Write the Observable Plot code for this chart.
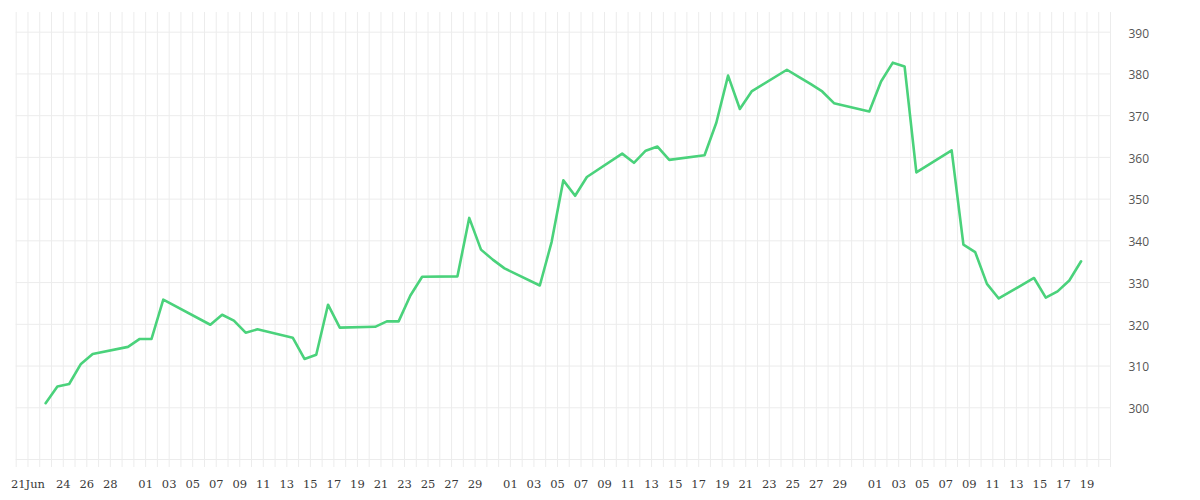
<!DOCTYPE html>
<html><head><meta charset="utf-8">
<script src="https://cdn.jsdelivr.net/npm/d3@7"></script>
<script src="https://cdn.jsdelivr.net/npm/@observablehq/plot@0.6"></script>
<style>html,body{margin:0;padding:0;background:#fff;}</style>
</head><body><div id="chart"></div>
<script>
const dates = [
  "2020-06-22","2020-06-23","2020-06-24","2020-06-25","2020-06-26","2020-06-29","2020-06-30",
  "2020-07-01","2020-07-02","2020-07-06","2020-07-07","2020-07-08","2020-07-09","2020-07-10",
  "2020-07-13","2020-07-14","2020-07-15","2020-07-16","2020-07-17","2020-07-20","2020-07-21",
  "2020-07-22","2020-07-23","2020-07-24","2020-07-27","2020-07-28","2020-07-29","2020-07-30",
  "2020-07-31","2020-08-03","2020-08-04","2020-08-05","2020-08-06","2020-08-07","2020-08-10",
  "2020-08-11","2020-08-12","2020-08-13","2020-08-14","2020-08-17","2020-08-18","2020-08-19",
  "2020-08-20","2020-08-21","2020-08-24","2020-08-25","2020-08-26","2020-08-27","2020-08-28",
  "2020-08-31","2020-09-01","2020-09-02","2020-09-03","2020-09-04","2020-09-07","2020-09-08",
  "2020-09-09","2020-09-10","2020-09-11","2020-09-14","2020-09-15","2020-09-16","2020-09-17",
  "2020-09-18"
];
const prices = [
  301.1,305.1,305.7,310.5,312.9,314.6,316.5,
  316.5,325.9,319.9,322.3,320.9,318.0,318.8,
  316.8,311.7,312.7,324.7,319.2,319.4,320.7,
  320.7,326.9,331.4,331.5,345.5,337.9,335.5,
  333.4,329.3,339.7,354.5,350.8,355.3,360.9,
  358.7,361.6,362.6,359.4,360.5,368.3,379.6,
  371.6,375.8,381.0,379.3,377.6,375.8,373.0,
  371.0,378.2,382.7,381.8,356.4,361.7,339.1,
  337.3,329.7,326.2,331.1,326.4,327.9,330.5,
  335.1
];
const yTicks = [300,310,320,330,340,350,360,370,380,390];
const xTickDates = [
  "2020-06-21","2020-06-24","2020-06-26","2020-06-28",
  "2020-07-01","2020-07-03","2020-07-05","2020-07-07","2020-07-09","2020-07-11","2020-07-13","2020-07-15",
  "2020-07-17","2020-07-19","2020-07-21","2020-07-23","2020-07-25","2020-07-27","2020-07-29",
  "2020-08-01","2020-08-03","2020-08-05","2020-08-07","2020-08-09","2020-08-11","2020-08-13","2020-08-15",
  "2020-08-17","2020-08-19","2020-08-21","2020-08-23","2020-08-25","2020-08-27","2020-08-29",
  "2020-09-01","2020-09-03","2020-09-05","2020-09-07","2020-09-09","2020-09-11","2020-09-13","2020-09-15",
  "2020-09-17","2020-09-19"
];
const xDomain = ["2020-06-20", "2020-09-21"];
const yDomain = [285.69, 394.72];
const baseline = 287.61;

const parse = s => new Date(s + "T00:00:00Z");
const data = dates.map((d, i) => ({date: new Date(d + "T12:00:00Z"), price: prices[i]}));
const xTicks = xTickDates.map(parse);
const days = d3.utcDay.range(parse(xDomain[0]), d3.utcDay.offset(parse(xDomain[1]), 1));
const firstTick = +xTicks[0];
const fmtX = d => +d === firstTick ? d3.utcFormat("%d%b")(d) : d3.utcFormat("%d")(d);
const grid = "#ececec";

const chart = Plot.plot({
  width: 1200,
  height: 500,
  marginTop: 12,
  marginBottom: 33,
  marginLeft: 15.7,
  marginRight: 90,
  x: {type: "utc", domain: xDomain.map(parse), axis: null},
  y: {domain: yDomain, axis: null},
  marks: [
    Plot.ruleX(days, {stroke: grid, strokeWidth: 1}),
    Plot.ruleY(yTicks, {stroke: grid, strokeWidth: 1}),
    Plot.ruleY([baseline], {stroke: grid, strokeWidth: 1}),
    Plot.text(xTicks, {
      x: d => d, text: fmtX, frameAnchor: "bottom", dy: 16.5,
      textAnchor: "middle", lineAnchor: "middle",
      fontFamily: "DejaVu Serif", fontSize: 11.5, fill: "#3a3a3a"
    }),
    Plot.text(yTicks, {
      y: d => d, text: d => String(d), frameAnchor: "right", dx: 18, dy: 1.5,
      textAnchor: "start", lineAnchor: "middle",
      fontFamily: "Open Sans", fontSize: 12, fill: "#555"
    }),
    Plot.lineY(data, {x: "date", y: "price", stroke: "#4ad27b", strokeWidth: 2.6, curve: "linear"})
  ]
});
document.getElementById("chart").appendChild(chart);
</script>
</body></html>
